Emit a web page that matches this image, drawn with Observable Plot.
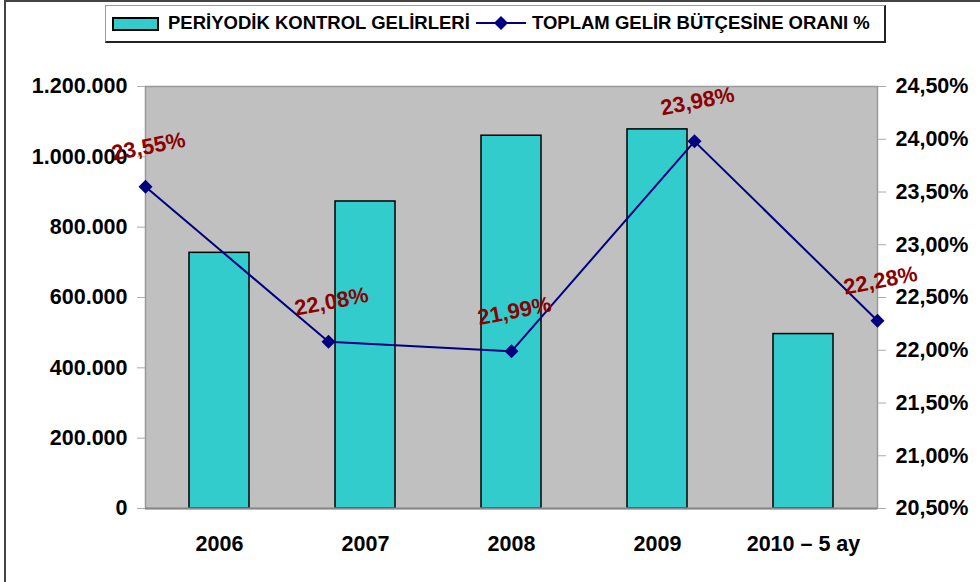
<!DOCTYPE html>
<html>
<head>
<meta charset="utf-8">
<script src="https://cdn.jsdelivr.net/npm/d3@7"></script>
<script src="https://cdn.jsdelivr.net/npm/@observablehq/plot@0.6"></script>
<style>
  html, body { margin: 0; padding: 0; background: #fff; }
  #wrap { position: relative; width: 980px; height: 582px; overflow: hidden; font-family: "Liberation Sans", Arial, sans-serif; }
  #border { position: absolute; left: 4px; top: 0; width: 1200px; height: 800px; border-left: 2px solid #444; border-top: 2px solid #444; box-sizing: border-box; }
  #legend { position: absolute; left: 105px; top: 5px; width: 781px; height: 38px; box-sizing: border-box;
    border-left: 1.5px solid #999; border-top: 1.5px solid #999; border-right: 2px solid #222; border-bottom: 2px solid #222; background: #fff; }
  #legend .sw { position: absolute; left: 6px; top: 11px; width: 43px; height: 10px; background: #33cccc; border: 2px solid #000; }
  #legend .txt { position: absolute; top: 0; height: 34px; line-height: 34px; font-size: 18.5px; font-weight: bold; color: #000; white-space: nowrap; }
  #legend svg.ln { position: absolute; left: 370px; top: 8px; }
  .layer { position: absolute; left: 0; top: 0; }
</style>
</head>
<body>
<div id="wrap">
  <div id="border"></div>
  <div id="legend">
    <div class="sw"></div>
    <div class="txt" id="t1" style="left:62px"></div>
    <svg class="ln" width="50" height="18"><line x1="0" y1="9" x2="50" y2="9" stroke="#000080" stroke-width="2"/><path d="M25,2 L32,9 L25,16 L18,9 Z" fill="#000080"/></svg>
    <div class="txt" id="t2" style="left:426px"></div>
  </div>
  <div id="c1" class="layer"></div>
  <div id="c2" class="layer"></div>
</div>
<script>
const categories = ["2006", "2007", "2008", "2009", "2010 – 5 ay"];
const gelirler = [727000, 873000, 1060000, 1078000, 496000];
const oranlar = [23.55, 22.08, 21.99, 23.98, 22.28];
const leftTicks = [0, 200000, 400000, 600000, 800000, 1000000, 1200000];
const rightTicks = [20.5, 21, 21.5, 22, 22.5, 23, 23.5, 24, 24.5];
const seriesBar = "PERİYODİK KONTROL GELİRLERİ";
const seriesLine = "TOPLAM GELİR BÜTÇESİNE ORANI %";

document.getElementById("t1").textContent = seriesBar;
document.getElementById("t2").textContent = seriesLine;

const data = categories.map((c, i) => ({cat: c, gelir: gelirler[i], oran: oranlar[i]}));

const tr = d3.formatLocale({decimal: ",", thousands: ".", grouping: [3], currency: ["", ""]});
const fmtLeft = tr.format(",d");
const fmt2 = tr.format(".2f");
const fmtRight = d => fmt2(d) + "%";

const common = {
  width: 980, height: 582,
  marginLeft: 145, marginRight: 103, marginTop: 86, marginBottom: 74,
  style: {fontFamily: '"Liberation Sans", Arial, sans-serif', fontSize: "21.5px", fontWeight: "bold", color: "#000", background: "transparent", overflow: "visible"}
};

const p1 = Plot.plot({
  ...common,
  x: {type: "band", domain: categories, paddingInner: 0.59, paddingOuter: 0.295, label: null},
  y: {domain: [0, 1200000], label: null},
  marks: [
    Plot.frame({fill: "#c0c0c0", stroke: "none"}),
    Plot.barY(data, {x: "cat", y: "gelir", fill: "#33cccc", stroke: "#000", strokeWidth: 1.5}),
    Plot.frame({stroke: "#999", strokeWidth: 1.5}),
    Plot.ruleY([0], {stroke: "#888", strokeWidth: 2}),
    Plot.axisY({ticks: leftTicks, tickFormat: fmtLeft, tickSize: 8, tickPadding: 10, stroke: "#aaa", label: null}),
    Plot.axisX({tickSize: 0, tickPadding: 27, label: null})
  ]
});
document.getElementById("c1").appendChild(p1);

const p2 = Plot.plot({
  ...common,
  x: {type: "point", domain: categories, padding: 0, axis: null},
  y: {domain: [20.5, 24.5], label: null},
  marks: [
    Plot.line(data, {x: "cat", y: "oran", stroke: "#000080", strokeWidth: 2}),
    Plot.dot(data, {x: "cat", y: "oran", symbol: "diamond2", r: 6.3, fill: "#000080", stroke: "none"}),
    Plot.axisY({anchor: "right", ticks: rightTicks, tickFormat: fmtRight, tickSize: 8, tickPadding: 10, stroke: "#aaa", label: null}),
    Plot.text(data, {x: "cat", y: "oran", text: d => fmtRight(d.oran), rotate: -11, dx: 3, dy: -40, fill: "#8b0000", fontSize: 22, fontWeight: "bold"})
  ]
});
document.getElementById("c2").appendChild(p2);
</script>
</body>
</html>
